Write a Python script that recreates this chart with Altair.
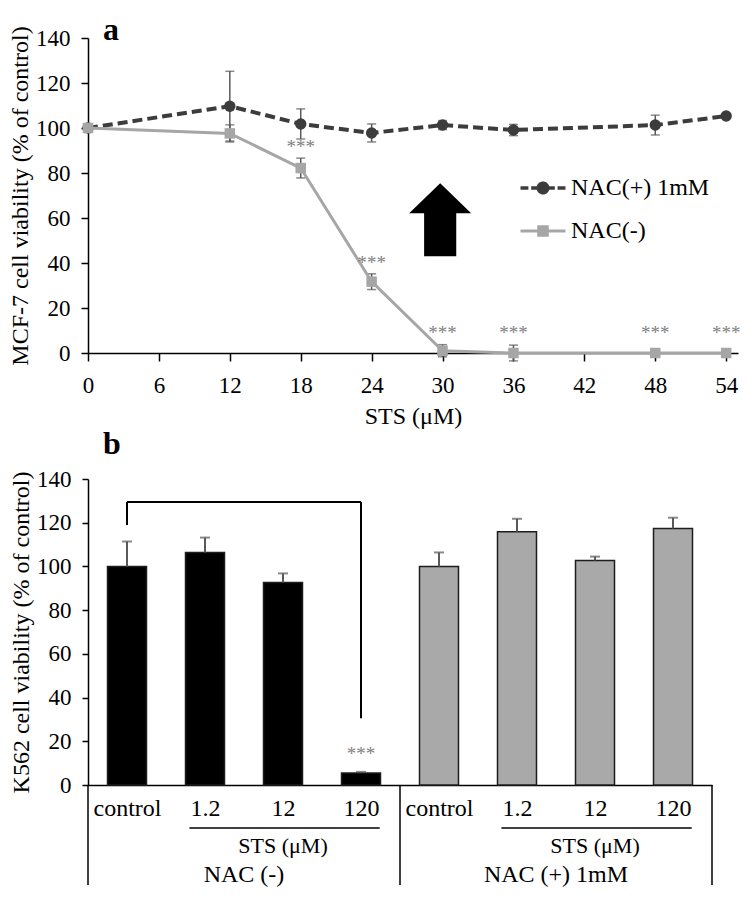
import altair as alt
import pandas as pd

FONT = "Liberation Serif"

# ---------------- Panel a data ----------------
sts_um = [0, 12, 18, 24, 30, 36, 48, 54]
nac_plus_mean = [100, 109.7, 101.8, 97.8, 101.3, 99.1, 101.3, 105.3]
nac_plus_sd = [0, 15.5, 6.7, 4.0, 2.0, 2.5, 4.4, 0]
nac_minus_mean = [100, 97.6, 82.2, 31.7, 1.0, 0, 0, 0]
nac_minus_sd = [0, 3.8, 4.4, 3.5, 2.7, 3.5, 0, 0]
nac_minus_sig = ["", "", "***", "***", "***", "***", "***", "***"]
series_names = ["NAC(+) 1mM", "NAC(-)"]
x_ticks_a = [0, 6, 12, 18, 24, 30, 36, 42, 48, 54]
y_ticks = [0, 20, 40, 60, 80, 100, 120, 140]
arrow_at = {"x": [29.8], "y": [59.2]}

# ---------------- Panel b data ----------------
b_groups = ["NAC (-)", "NAC (+) 1mM"]
b_labels = ["control", "1.2", "12", "120"]
k562_minus_mean = [100, 106.4, 92.7, 5.5]
k562_minus_sd = [11.4, 6.8, 4.1, 0.5]
k562_minus_sig = ["", "", "", "***"]
k562_plus_mean = [100, 115.9, 102.7, 117.3]
k562_plus_sd = [6.4, 5.9, 1.8, 5.0]
k562_plus_sig = ["", "", "", ""]
bracket = {"from": 1, "to": 4, "top": 129.5, "left_end": 119, "right_end": 30.5}

# ---------------- styles ----------------
W_A, H_A = 650, 315
W_B, H_B = 624, 306
DARK = "#3c3c3c"
LIGHT = "#a6a6a6"
ERR = "#595959"
STAR = "#7f7f7f"
AX = dict(labelFont=FONT, labelFontSize=23, labelColor="black", titleFont=FONT, titleFontSize=24,
          titleFontWeight="normal", titleColor="black", domainColor="black", domainWidth=1.5,
          tickColor="black", tickWidth=1.5, grid=False)

# ---------------- Panel a ----------------
rows = []
for name, means, sds in [(series_names[0], nac_plus_mean, nac_plus_sd),
                         (series_names[1], nac_minus_mean, nac_minus_sd)]:
    for i, c in enumerate(sts_um):
        rows.append({"conc": c, "series": name, "mean": means[i], "sd": sds[i],
                     "lo": means[i] - sds[i], "hi": means[i] + sds[i],
                     "sig": nac_minus_sig[i] if name == series_names[1] else ""})
df_a = pd.DataFrame(rows)

xs_a = alt.Scale(domain=[0, 55], nice=False, zero=False)
ys = alt.Scale(domain=[0, 140], nice=False)
x_axis_a = alt.Axis(values=x_ticks_a, title="STS (μM)", tickSize=8, labelPadding=13,
                    titlePadding=7, labelFlush=False, labelOverlap=False, **AX)
y_axis_a = alt.Axis(values=y_ticks, title="MCF-7 cell viability (% of control)", tickSize=7,
                    labelPadding=11, titlePadding=3, **AX)


def XA(f):
    return alt.X(f"{f}:Q", scale=xs_a, axis=x_axis_a)


def YA(f):
    return alt.Y(f"{f}:Q", scale=ys, axis=y_axis_a)


PATH_PLUS = ("M-2,0L-1.3,0M-1.05,0L-0.5,0M0.5,0L1.05,0M1.3,0L2,0"
             "M0.42,0A0.42,0.42,0,1,1,-0.42,0A0.42,0.42,0,1,1,0.42,0Z")
PATH_MINUS = "M-2,0L2,0M-0.38,-0.38L0.38,-0.38L0.38,0.38L-0.38,0.38Z"
ARROW = "M0,-1L0.85,-0.18L0.44,-0.18L0.44,1L-0.44,1L-0.44,-0.18L-0.85,-0.18Z"

color_scale = alt.Scale(domain=series_names, range=[DARK, LIGHT])
pick = "datum.value === 'NAC(-)'"
leg = alt.Legend(
    title=None, orient="none", legendX=443, legendY=138, padding=0,
    labelFont=FONT, labelFontSize=24, labelColor="black", labelOffset=16,
    symbolSize=506, rowPadding=19, symbolOffset=0, labelLimit=400,
    symbolType=alt.ExprRef(expr=f"{pick} ? '{PATH_MINUS}' : '{PATH_PLUS}'"),
    symbolFillColor=alt.ExprRef(expr=f"{pick} ? '{LIGHT}' : '{DARK}'"),
    symbolStrokeColor=alt.ExprRef(expr=f"{pick} ? '{LIGHT}' : '{DARK}'"),
    symbolStrokeWidth=alt.ExprRef(expr=f"{pick} ? 3 : 3.5"),
    symbolDash=[1, 0], symbolOpacity=1,
)
col = alt.Color("series:N", scale=color_scale, legend=leg)

base_a = alt.Chart(df_a)
err_a = base_a.transform_filter("datum.sd > 0")
err_rule_a = err_a.mark_rule(color=ERR, strokeWidth=1.5).encode(x=XA("conc"), y=YA("lo"), y2="hi:Q")
err_cap_hi_a = err_a.mark_tick(color=ERR, thickness=1.5, size=9, orient="horizontal").encode(
    x=XA("conc"), y=YA("hi"))
err_cap_lo_a = err_a.mark_tick(color=ERR, thickness=1.5, size=9, orient="horizontal").encode(
    x=XA("conc"), y=YA("lo"))

plus = base_a.transform_filter(alt.datum.series == series_names[0])
minus = base_a.transform_filter(alt.datum.series == series_names[1])
line_plus = plus.mark_line(strokeWidth=4, strokeDash=[10, 5]).encode(x=XA("conc"), y=YA("mean"), color=col)
pts_plus = plus.mark_point(filled=True, shape="circle", size=130, opacity=1).encode(
    x=XA("conc"), y=YA("mean"), color=col)
line_minus = minus.mark_line(strokeWidth=3).encode(x=XA("conc"), y=YA("mean"), color=col)
pts_minus = minus.mark_point(filled=True, shape="square", size=110, opacity=1).encode(
    x=XA("conc"), y=YA("mean"), color=col)

stars_a = minus.transform_filter("datum.sig != ''").transform_calculate(
    sy="max(datum.hi, 4)").mark_text(font=FONT, fontSize=19, color=STAR, baseline="bottom", dy=-1).encode(
    x=XA("conc"), y=YA("sy"), text="sig:N")

arrow = alt.Chart(pd.DataFrame(arrow_at)).mark_point(
    shape=ARROW, size=5329, filled=True, color="black", opacity=1, strokeWidth=0).encode(
    x=XA("x"), y=YA("y"))

chart_a = alt.layer(err_rule_a, err_cap_hi_a, err_cap_lo_a, line_plus, pts_plus,
                    line_minus, pts_minus, stars_a, arrow).properties(
    width=W_A, height=H_A,
    title=alt.TitleParams("a", anchor="start", frame="group", font=FONT, fontSize=32,
                          fontWeight="bold", dx=15, offset=-21, color="black"))

# ---------------- Panel b ----------------
rows_b = []
pos = 1
for g, means, sds, sigs in [(b_groups[0], k562_minus_mean, k562_minus_sd, k562_minus_sig),
                            (b_groups[1], k562_plus_mean, k562_plus_sd, k562_plus_sig)]:
    for i, lab in enumerate(b_labels):
        rows_b.append({"pos": pos, "label": lab, "group": g, "mean": means[i], "sd": sds[i],
                       "hi": means[i] + sds[i], "sig": sigs[i]})
        pos += 1
df_b = pd.DataFrame(rows_b)
n_b = len(df_b)

xs_b = alt.Scale(domain=[0.5, n_b + 0.5], nice=False, zero=False)
label_list = "[" + ",".join(f"'{l}'" for l in df_b["label"]) + "]"
AXB = dict(AX)
AXB["labelFontSize"] = 24
x_axis_b = alt.Axis(values=list(range(1, n_b + 1)), labelExpr=f"{label_list}[datum.value - 1]",
                    ticks=False, tickSize=0, labelPadding=11, title=None, labelFlush=False, **AXB)
y_axis_b = alt.Axis(values=y_ticks, title="K562 cell viability (% of control)", tickSize=6,
                    labelPadding=11, titlePadding=3, **AX)


def XB(f):
    return alt.X(f"{f}:Q", scale=xs_b, axis=x_axis_b)


def YB(f):
    return alt.Y(f"{f}:Q", scale=ys, axis=y_axis_b)


base_b = alt.Chart(df_b)
bars = base_b.transform_calculate(x0="datum.pos - 0.25", x1="datum.pos + 0.25").mark_bar(
    stroke="#1e1e1e", strokeWidth=1.5).encode(
    x=XB("x0"), x2="x1:Q", y=YB("mean"), y2=alt.datum(0),
    color=alt.Color("group:N", scale=alt.Scale(domain=b_groups, range=["#000000", "#a9a9a9"]), legend=None))
err_rule_b = base_b.mark_rule(color=ERR, strokeWidth=2).encode(x=XB("pos"), y=YB("mean"), y2="hi:Q")
err_cap_b = base_b.mark_tick(color=ERR, thickness=2, size=10, orient="horizontal").encode(
    x=XB("pos"), y=YB("hi"))
stars_b = base_b.transform_filter("datum.sig != ''").mark_text(
    font=FONT, fontSize=19, color=STAR, baseline="bottom", dy=-8).encode(
    x=XB("pos"), y=YB("hi"), text="sig:N")

seg_df = pd.DataFrame({
    "x": [bracket["from"], bracket["from"], bracket["to"]],
    "x2": [bracket["from"], bracket["to"], bracket["to"]],
    "y": [bracket["left_end"], bracket["top"], bracket["top"]],
    "y2": [bracket["top"], bracket["top"], bracket["right_end"]],
})
bracket_layer = alt.Chart(seg_df).mark_rule(color="black", strokeWidth=2).encode(
    x=XB("x"), x2="x2:Q", y=YB("y"), y2="y2:Q")

# category-table lines below the axis
grp = df_b.groupby("group", sort=False)["pos"].agg(["min", "max"]).reset_index()
grp["mid"] = (grp["min"] + grp["max"]) / 2
grp["sts_mid"] = (grp["min"] + 1 + grp["max"]) / 2
grp["ul0"] = grp["min"] + 1 - 0.2
grp["ul1"] = grp["max"] + 0.24
grp["sts"] = "STS (μM)"
div_df = pd.DataFrame({"x": [0.5] + list(grp["max"] + 0.5)})
dividers = alt.Chart(div_df).mark_rule(color="black", strokeWidth=1.5).encode(
    x=XB("x"), y=alt.value(H_B), y2=alt.value(H_B + 100))
underline = alt.Chart(grp).mark_rule(color="black", strokeWidth=1.5).encode(
    x=XB("ul0"), x2="ul1:Q", y=alt.value(H_B + 43))
sts_text = alt.Chart(grp).mark_text(font=FONT, fontSize=22, color="black").encode(
    x=XB("sts_mid"), y=alt.value(H_B + 61), text="sts:N")
grp_text = alt.Chart(grp).mark_text(font=FONT, fontSize=24, color="black").encode(
    x=XB("mid"), y=alt.value(H_B + 90), text="group:N")

chart_b = alt.layer(bars, err_rule_b, err_cap_b, stars_b, bracket_layer, dividers, underline,
                    sts_text, grp_text).properties(
    width=W_B, height=H_B,
    title=alt.TitleParams("b", anchor="start", frame="group", font=FONT, fontSize=32,
                          fontWeight="bold", dx=15, offset=7, color="black"))

chart = alt.vconcat(chart_a, chart_b, spacing=0).resolve_scale(
    color="independent").resolve_legend(color="independent").properties(
    padding={"top": 5, "left": 0, "right": 0, "bottom": 0}).configure_view(
    stroke=None).configure_axis(**AX)

chart.save("out.html", embed_options={"renderer": "svg", "actions": False})
